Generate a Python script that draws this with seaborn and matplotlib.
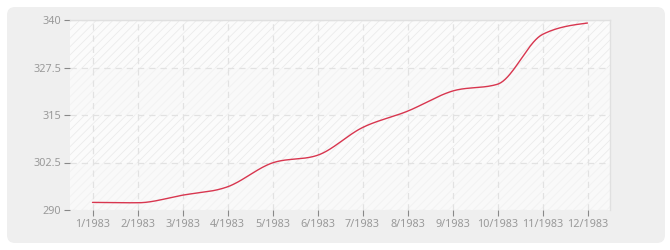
import numpy as np
import pandas as pd
import seaborn as sns
import matplotlib
matplotlib.use("Agg")
import matplotlib.pyplot as plt
from matplotlib.patches import FancyBboxPatch

months = list(range(1, 13))
tick_labels = ["1/1983", "2/1983", "3/1983", "4/1983", "5/1983", "6/1983",
               "7/1983", "8/1983", "9/1983", "10/1983", "11/1983", "12/1983"]
values = [292.0, 291.9, 293.9, 296.1, 302.4, 304.4, 311.7, 316.0, 321.3, 323.1, 336.2, 339.2]
y_ticks = [290, 302.5, 315, 327.5, 340]
y_tick_labels = ["290", "302.5", "315", "327.5", "340"]


def monotone_x(x, y, n=40):
    # d3-style monotone-X cubic rendering of the line through the data points
    x = np.asarray(x, float); y = np.asarray(y, float)
    h = np.diff(x); s = np.diff(y) / h
    m = np.zeros_like(y)
    for i in range(1, len(y) - 1):
        p = (s[i - 1] * h[i] + s[i] * h[i - 1]) / (h[i - 1] + h[i])
        m[i] = (np.sign(s[i - 1]) + np.sign(s[i])) * min(abs(s[i - 1]), abs(s[i]), 0.5 * abs(p))
    m[0] = (3 * s[0] - m[1]) / 2
    m[-1] = (3 * s[-1] - m[-2]) / 2
    xs, ys = [], []
    for i in range(len(x) - 1):
        t = np.linspace(0, 1, n, endpoint=(i == len(x) - 2))
        h00 = 2 * t**3 - 3 * t**2 + 1; h10 = t**3 - 2 * t**2 + t
        h01 = -2 * t**3 + 3 * t**2; h11 = t**3 - t**2
        xs.append(x[i] + t * h[i])
        ys.append(h00 * y[i] + h10 * h[i] * m[i] + h01 * y[i + 1] + h11 * h[i] * m[i + 1])
    return np.concatenate(xs), np.concatenate(ys)


sns.set_theme(style="white")
plt.rcParams["font.family"] = ["Noto Sans", "DejaVu Sans"]
plt.rcParams["hatch.linewidth"] = 0.6

fig = plt.figure(figsize=(6.7, 2.5), dpi=100)
fig.patch.set_facecolor("white")
bg = FancyBboxPatch((7 / 670, 7 / 250), 658 / 670, 236 / 250,
                    boxstyle="round,pad=0,rounding_size=0.012",
                    transform=fig.transFigure, facecolor="#efefef",
                    edgecolor="none", mutation_aspect=670 / 250, zorder=-10)
fig.patches.append(bg)

ax = fig.add_axes([70 / 670, 40 / 250, 540 / 670, 190 / 250])
ax.set_zorder(1)
ax.set_facecolor("#fbfbfb")

# bands
for i in range(len(y_ticks) - 1):
    lo, hi = y_ticks[i], y_ticks[i + 1]
    if i % 2 == 1:
        ax.axhspan(lo, hi, facecolor="#fbfbfb", edgecolor="#ebebeb", hatch="////",
                   linewidth=0, zorder=0)
    else:
        ax.axhspan(lo, hi, facecolor="#f9f9f9", edgecolor="#f2f2f2", hatch="////",
                   linewidth=0, zorder=0)

xs, ys = monotone_x(months, values)
curve = pd.DataFrame({"month": xs, "value": ys})
sns.lineplot(data=curve, x="month", y="value", ax=ax, color="#d8364f",
             linewidth=1.0, zorder=3, estimator=None, sort=False)

ax.set_xlim(0.5, 12.5)
ax.set_ylim(290, 340)
ax.set_xticks(months)
ax.set_xticklabels(tick_labels)
ax.set_yticks(y_ticks)
ax.set_yticklabels(y_tick_labels)
ax.set_xlabel("")
ax.set_ylabel("")

ax.grid(True, color="#e2e2e2", linestyle=(0, (5, 4)), linewidth=0.9, zorder=1)
ax.set_axisbelow(True)

for side in ["top", "right"]:
    ax.spines[side].set_color("#e0e0e0")
    ax.spines[side].set_linewidth(1.0)
for side in ["left", "bottom"]:
    ax.spines[side].set_visible(False)

ax.tick_params(axis="both", which="major", length=4, width=0.8, color="#888888",
               labelcolor="#999999", labelsize=7.8, direction="out", pad=2.5,
               left=True, bottom=True)

fig.savefig("out.png", dpi=100, facecolor=fig.get_facecolor())
